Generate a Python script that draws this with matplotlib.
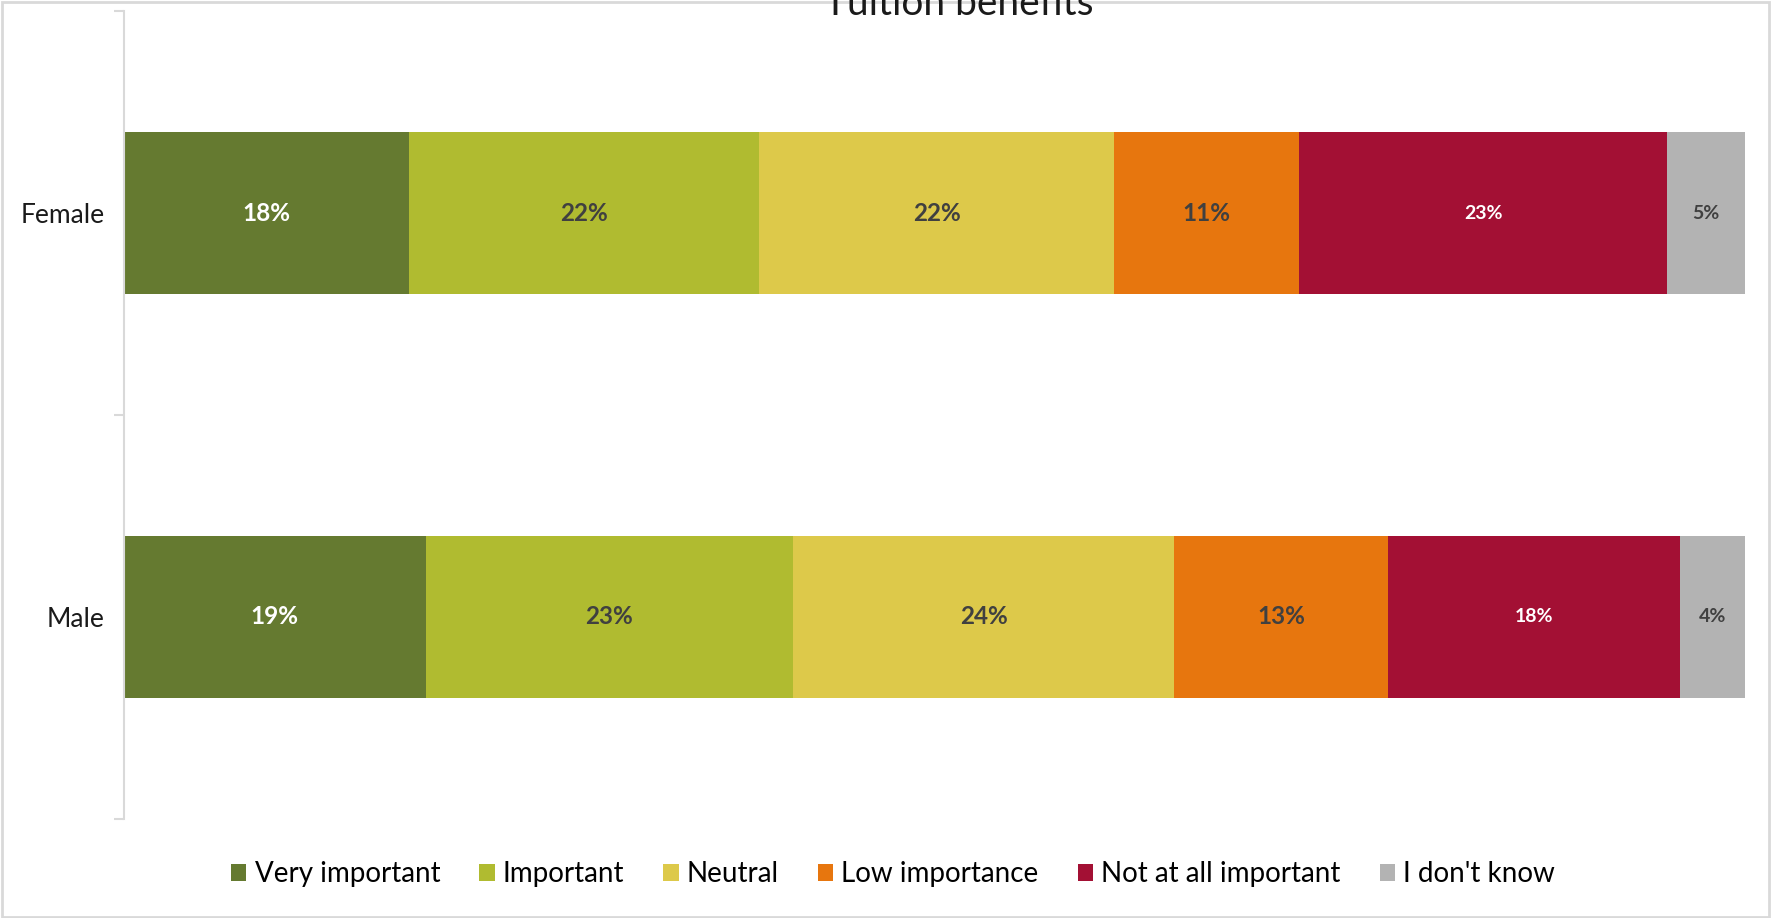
import numpy as np
import matplotlib
matplotlib.use('Agg')
from matplotlib import pyplot as plt
from matplotlib.patches import Rectangle

# data (share of respondents, %)
groups = ['Female', 'Male']
answers = ['Very important', 'Important', 'Neutral', 'Low importance',
           'Not at all important', "I don't know"]
female = [17.6, 21.6, 21.9, 11.4, 22.7, 4.8]
male = [18.6, 22.7, 23.5, 13.2, 18.0, 4.0]
title = 'Tuition benefits'

colors = ['#657A30', '#B0BB30', '#DDC94A', '#E7760E', '#A31034', '#B3B3B3']
txt_colors = ['white', '#404040', '#404040', '#404040', 'white', '#404040']
txt_sizes = [17.5, 17.5, 17.5, 17.5, 14, 14]

plt.rcParams['font.family'] = ['Lato', 'DejaVu Sans']

fig = plt.figure(figsize=(17.73, 9.18), dpi=100)
ax = fig.add_axes([124 / 1773, 99 / 918, 1621 / 1773, 808 / 918])

vals = np.array([female, male])
ypos = np.arange(len(groups))
left = np.zeros(len(groups))
for i, ans in enumerate(answers):
    ax.barh(ypos, vals[:, i], left=left, height=0.4, color=colors[i],
            label=ans, edgecolor='none')
    for y, l, v in zip(ypos, left, vals[:, i]):
        ax.text(l + v / 2, y, '%.0f%%' % v, ha='center', va='center',
                color=txt_colors[i], fontsize=txt_sizes[i], fontweight='bold')
    left += vals[:, i]

ax.set_xlim(0, 100)
ax.set_ylim(1.5, -0.5)
ax.set_xticks([])
ax.set_yticks([-0.5, 0.5, 1.5])
ax.set_yticklabels([])
ax.set_yticks(ypos, minor=True)
ax.set_yticklabels(groups, minor=True, fontsize=19, color='#1A1A1A')
ax.tick_params(axis='y', which='major', length=7, color='#D9D9D9', width=1.5)
ax.tick_params(axis='y', which='minor', length=0, pad=14)
for s in ['top', 'right', 'bottom']:
    ax.spines[s].set_visible(False)
ax.spines['left'].set_color('#D9D9D9')
ax.spines['left'].set_linewidth(1.5)

fig.text(959 / 1773, 1 - 15 / 918, title, ha='center', va='baseline',
         fontsize=28, color='#1A1A1A')

fig.legend(loc='center', bbox_to_anchor=(893 / 1773, 1 - 874 / 918),
           ncol=6, frameon=False, fontsize=20, handlelength=0.55,
           handleheight=0.55, handletextpad=0.3, columnspacing=1.4)

fig.patches.append(Rectangle((0.001, 0.001), 0.997, 0.997,
                             transform=fig.transFigure, fill=False,
                             edgecolor='#D9D9D9', linewidth=2))

fig.savefig('out.png', dpi=100)
